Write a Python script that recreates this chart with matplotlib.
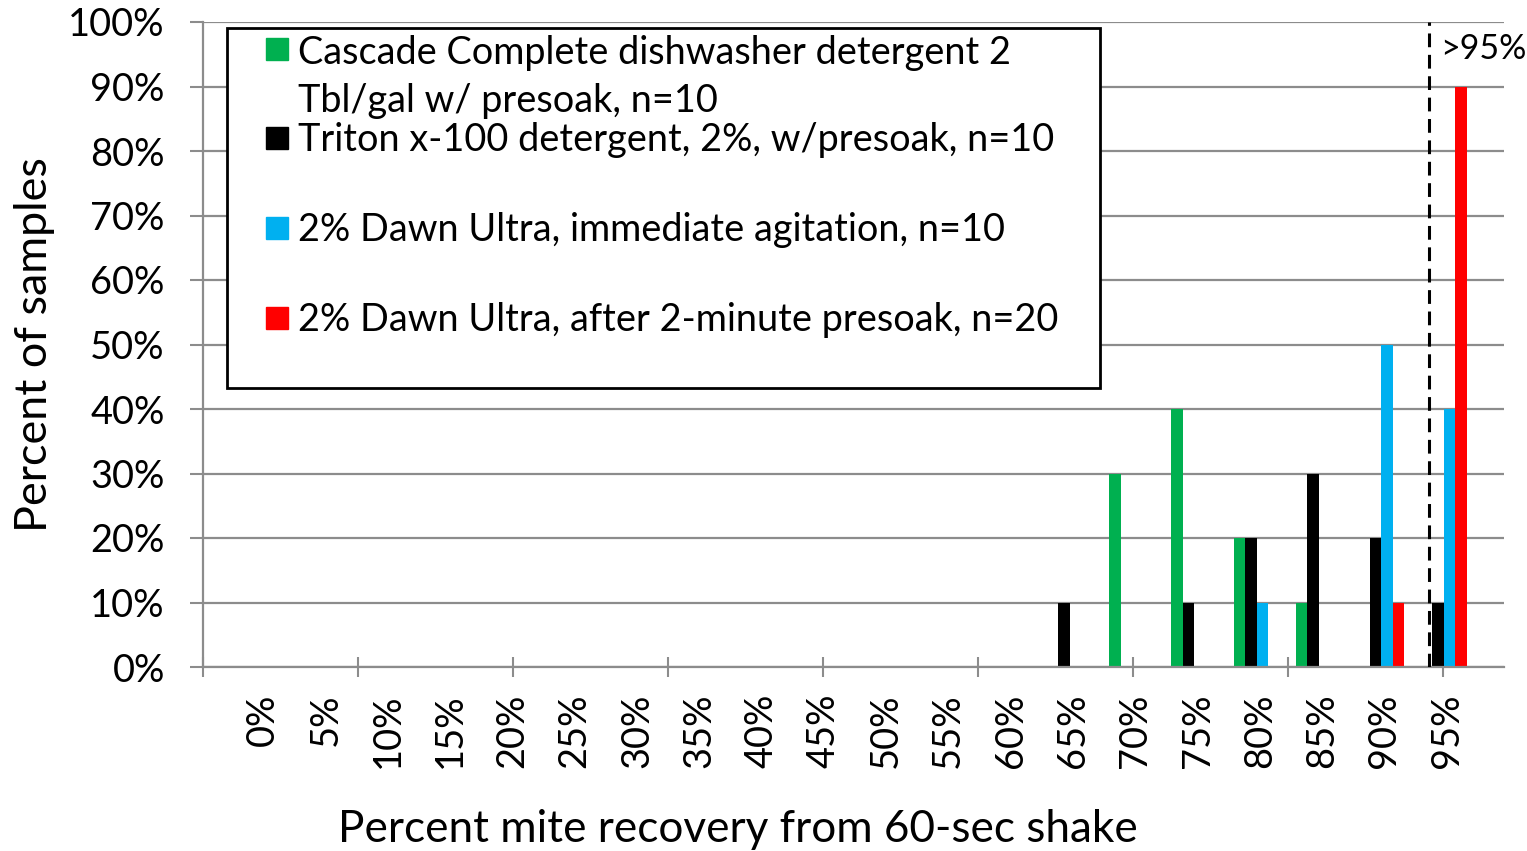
import numpy as np
import matplotlib.pyplot as plt
from matplotlib.patches import Rectangle

plt.rcParams['font.family'] = ['Lato', 'DejaVu Sans']

categories = ['0%', '5%', '10%', '15%', '20%', '25%', '30%', '35%', '40%', '45%',
              '50%', '55%', '60%', '65%', '70%', '75%', '80%', '85%', '90%', '95%']
series_names = ['Cascade Complete dishwasher detergent 2\nTbl/gal w/ presoak, n=10',
                'Triton x-100 detergent, 2%, w/presoak, n=10',
                '2% Dawn Ultra, immediate agitation, n=10',
                '2% Dawn Ultra, after 2-minute presoak, n=20']
cascade = [0, 0, 0, 0, 0, 0, 0, 0, 0, 0, 0, 0, 0, 0, 30, 40, 20, 10, 0, 0]
triton = [0, 0, 0, 0, 0, 0, 0, 0, 0, 0, 0, 0, 0, 10, 0, 10, 20, 30, 20, 10]
dawn_now = [0, 0, 0, 0, 0, 0, 0, 0, 0, 0, 0, 0, 0, 0, 0, 0, 10, 0, 50, 40]
dawn_soak = [0, 0, 0, 0, 0, 0, 0, 0, 0, 0, 0, 0, 0, 0, 0, 0, 0, 0, 10, 90]
colors = ['#00B050', '#000000', '#00B0F0', '#FF0000']

W, H = 1527, 851
fig = plt.figure(figsize=(W / 100, H / 100), dpi=100)
ax = fig.add_axes([203 / W, 1 - 667 / H, (1504 - 203) / W, (667 - 22) / H])

def px(x, y):
    return x / W, 1 - y / H

x = np.arange(len(categories))
w = 0.185
for k, (vals, c) in enumerate(zip([cascade, triton, dawn_now, dawn_soak], colors)):
    ax.bar(x + (k - 1.5) * w, vals, width=w, color=c, zorder=3)

xmin, xmax = -0.915, 19.97
ax.set_xlim(xmin, xmax)
ax.set_ylim(0, 100)

grid_c = '#8c8c8c'
ax.set_yticks(np.arange(0, 101, 10))
ax.set_yticklabels(['%d%%' % v for v in range(0, 101, 10)], fontsize=27.4)
ax.yaxis.grid(True, color=grid_c, lw=1.6, zorder=0)
ax.tick_params(axis='y', direction='out', length=9.5, width=1.5, color=grid_c, pad=18)

# odd Excel-style tick marks, labels sit on the categories
ax.set_xticks(xmin + 2.488 * np.arange(9))
ax.set_xticklabels([])
ax.tick_params(axis='x', which='major', direction='inout', length=14, width=1.5, color=grid_c)
ax.set_xticks(x + 0.05, minor=True)
ax.set_xticklabels(categories, minor=True, rotation=90, fontsize=27.4, va='top')
ax.tick_params(axis='x', which='minor', length=0, pad=19)

for s in ['top', 'right']:
    ax.spines[s].set_visible(False)
for s in ['left', 'bottom']:
    ax.spines[s].set_color(grid_c)
    ax.spines[s].set_linewidth(1.6)
ax.spines['bottom'].set_zorder(4)

# >95% divider
ax.axvline(18.76, color='black', lw=2.2, ls=(0, (4.5, 2.5)), zorder=5)
fig.text(*px(1440, 49), '>95%', fontsize=24.5, va='center', ha='left')

ax.set_xlabel('Percent mite recovery from 60-sec shake', fontsize=31.8, va='center')
ax.xaxis.set_label_coords((738 - 203) / 1301, (667 - 830) / 645)
ax.set_ylabel('Percent of samples', fontsize=32.3, va='center')
ax.yaxis.set_label_coords((35 - 203) / 1301, 0.5)

# legend box drawn by hand to keep Excel's layout
x0, y0 = px(227, 388)
x1, y1 = px(1100, 28)
fig.patches.append(Rectangle((x0, y0), x1 - x0, y1 - y0, transform=fig.transFigure,
                             facecolor='white', edgecolor='black', lw=2, zorder=10))
ys = [49, 138, 228, 318]
for name, c, yy in zip(series_names, colors, ys):
    mx, my = px(277, yy)
    fig.add_artist(plt.Line2D([mx], [my], marker='s', ms=16, color=c, ls='none',
                              transform=fig.transFigure, zorder=11))
    if '\n' in name:
        tx, ty = px(298, yy - 14)
        fig.text(tx, ty, name, fontsize=27.3, va='top', ha='left', linespacing=1.4, zorder=11)
    else:
        tx, ty = px(298, yy + 2)
        fig.text(tx, ty, name, fontsize=27.3, va='center', ha='left', zorder=11)

fig.savefig('out.png', dpi=100)
